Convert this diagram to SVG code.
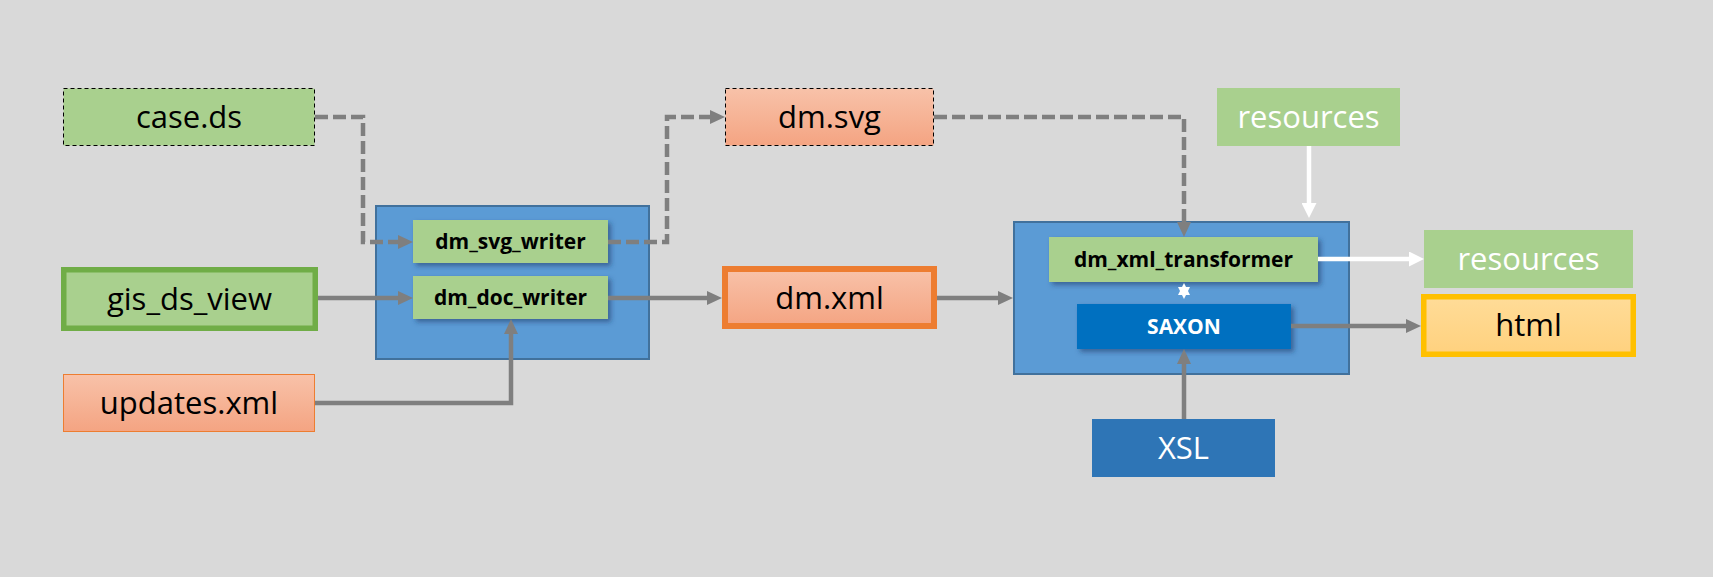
<svg xmlns="http://www.w3.org/2000/svg" width="1713" height="577" viewBox="0 0 1713 577">
<defs>
<linearGradient id="gSalmon" x1="0" y1="0" x2="0" y2="1"><stop offset="0" stop-color="#F8C2A9"/><stop offset="1" stop-color="#F4A482"/></linearGradient>
<linearGradient id="gGold" x1="0" y1="0" x2="0" y2="1"><stop offset="0" stop-color="#FFDC98"/><stop offset="1" stop-color="#FFD17E"/></linearGradient>
<filter id="sh" x="-10%" y="-20%" width="130%" height="160%"><feDropShadow dx="3" dy="3" stdDeviation="2.5" flood-color="#1F3864" flood-opacity="0.55"/></filter>
<marker id="ag" markerUnits="userSpaceOnUse" markerWidth="15" markerHeight="14" refX="0" refY="7" orient="auto"><path d="M0,0 L15,7 L0,14 Z" fill="#7F7F7F"/></marker>
<marker id="aw" markerUnits="userSpaceOnUse" markerWidth="15" markerHeight="15" refX="0" refY="7.5" orient="auto"><path d="M0,0 L15,7.5 L0,15 Z" fill="#FFFFFF"/></marker>
</defs>
<style>
.t{font-family:"Open Sans","Liberation Sans",sans-serif;font-size:31px;text-anchor:middle;fill:#000}
.b{font-family:"Open Sans","Liberation Sans",sans-serif;font-size:21px;font-weight:bold;text-anchor:middle;fill:#000}
.tw{fill:#FFFFFF}
.green{fill:#A9D08E}
.dashbox{stroke:#000;stroke-width:1;stroke-dasharray:4,3}
.cont{fill:#5B9BD5;stroke:#41719C;stroke-width:2}
.c{fill:none;stroke:#7F7F7F;stroke-width:4.5}
.d{stroke-dasharray:13,5}
.w{fill:none;stroke:#FFFFFF;stroke-width:4.5}
</style>
<rect x="0" y="0" width="1713" height="577" fill="#D9D9D9"/>

<g id="writer-container">
<rect class="cont" x="376" y="206" width="273" height="153"/>
</g>
<g id="transformer-container">
<rect class="cont" x="1014" y="222" width="335" height="152"/>
</g>

<g id="case-ds">
<rect class="green dashbox" x="63.5" y="88.5" width="251" height="57"/>
<text class="t" x="189" y="128">case.ds</text>
</g>
<g id="gis-ds-view">
<rect class="green" x="63.75" y="269.75" width="251.5" height="58.5" stroke="#70AD47" stroke-width="5.5"/>
<text class="t" x="189.5" y="310">gis_ds_view</text>
</g>
<g id="updates-xml">
<rect x="63.5" y="374.5" width="251" height="57" fill="url(#gSalmon)" stroke="#ED7D31" stroke-width="1"/>
<text class="t" x="189" y="414">updates.xml</text>
</g>
<g id="dm-svg-writer">
<rect class="green" x="413" y="220" width="195" height="43" filter="url(#sh)"/>
<text class="b" x="510.5" y="249">dm_svg_writer</text>
</g>
<g id="dm-doc-writer">
<rect class="green" x="413" y="276" width="195" height="43" filter="url(#sh)"/>
<text class="b" x="510.5" y="305">dm_doc_writer</text>
</g>
<g id="dm-svg">
<rect class="dashbox" x="725.5" y="88.5" width="208" height="57" fill="url(#gSalmon)"/>
<text class="t" x="829.5" y="128">dm.svg</text>
</g>
<g id="dm-xml">
<rect x="725" y="269" width="209" height="57" fill="url(#gSalmon)" stroke="#ED7D31" stroke-width="6"/>
<text class="t" x="829.5" y="309">dm.xml</text>
</g>
<g id="resources-in">
<rect class="green" x="1217" y="88" width="183" height="58"/>
<text class="t tw" x="1308.5" y="128">resources</text>
</g>
<g id="dm-xml-transformer">
<rect class="green" x="1049" y="237" width="269" height="45" filter="url(#sh)"/>
<text class="b" x="1183.5" y="267">dm_xml_transformer</text>
</g>
<g id="saxon">
<rect x="1077" y="304" width="214" height="45" fill="#0070C0" filter="url(#sh)"/>
<text class="b tw" x="1184" y="334">SAXON</text>
</g>
<g id="xsl">
<rect x="1092" y="419" width="183" height="58" fill="#2E75B6"/>
<text class="t tw" x="1183.5" y="459">XSL</text>
</g>
<g id="resources-out">
<rect class="green" x="1424" y="230" width="209" height="58"/>
<text class="t tw" x="1528.5" y="270">resources</text>
</g>
<g id="html">
<rect x="1423.75" y="296.75" width="209.5" height="57.5" fill="url(#gGold)" stroke="#FFC000" stroke-width="5.5"/>
<text class="t" x="1528.5" y="336">html</text>
</g>

<g id="connectors">
<path class="c d" d="M315,117 H363 V242 H398" marker-end="url(#ag)"/>
<path class="c d" d="M608,242 H667 V117 H710" marker-end="url(#ag)"/>
<path class="c d" d="M934,117 H1184 V222" marker-end="url(#ag)"/>
<path class="c" d="M318,298 H398" marker-end="url(#ag)"/>
<path class="c" d="M315,403 H511 V334" marker-end="url(#ag)"/>
<path class="c" d="M608,298 H707" marker-end="url(#ag)"/>
<path class="c" d="M937,298 H998" marker-end="url(#ag)"/>
<path class="w" d="M1309,146 V203" marker-end="url(#aw)"/>
<path class="w" d="M1318,259 H1409" marker-end="url(#aw)"/>
<path class="c" d="M1291,326 H1406" marker-end="url(#ag)"/>
<path class="c" d="M1184,419 V364" marker-end="url(#ag)"/>
<path d="M1184,283 L1190,295 L1178,295 Z" fill="#FFFFFF"/>
<path d="M1184,299 L1190,287 L1178,287 Z" fill="#FFFFFF"/>
</g>
</svg>
